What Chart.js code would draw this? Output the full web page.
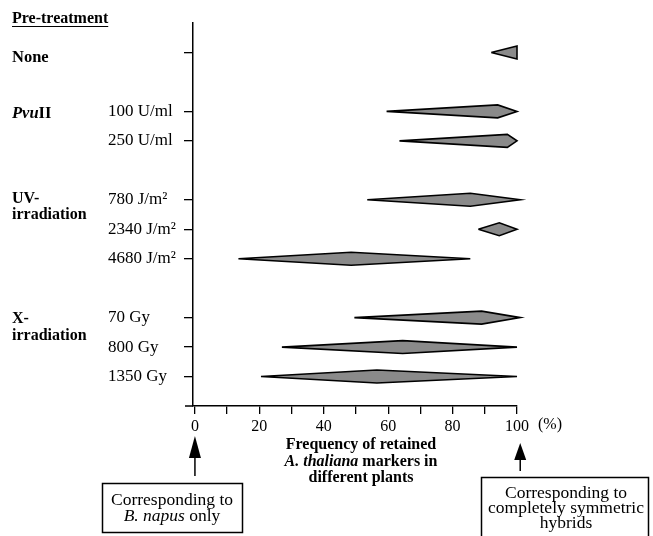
<!DOCTYPE html>
<html>
<head>
<meta charset="utf-8">
<script src="https://cdn.jsdelivr.net/npm/chart.js@4.4.1/dist/chart.umd.min.js"></script>
<style>
  html, body { margin: 0; padding: 0; background: #fff; }
  #wrap { width: 653px; height: 536px; }
</style>
</head>
<body>
<div id="wrap"><canvas id="chart"></canvas></div>
<script>
// --- данные ---
// строки по вертикали (0 = верх), пустые строки — промежутки между группами
const rows = [0, 2, 3, 5, 6, 7, 9, 10, 11];
const doseLabels = ['', '100 U/ml', '250 U/ml', '780 J/m²', '2340 J/m²', '4680 J/m²', '70 Gy', '800 Gy', '1350 Gy'];
// минимум, мода и максимум частоты (%) для каждого ромба
const minVals = [92, 59.5, 63.5, 53.5, 88, 13.5, 49.5, 27, 20.5];
const modeVals = [100, 94, 97, 85.5, 94.5, 48.5, 89, 64.5, 56.5];
const maxVals = [100, 100, 100, 101, 100, 85.5, 101, 100, 100];
const xTicks = [0, 10, 20, 30, 40, 50, 60, 70, 80, 90, 100];

const SERIF = '"Liberation Serif", "Times New Roman", serif';
const halfHeight = 0.22; // половина толщины ромба в единицах строки

// ромб: левый конец, верх у моды, правый конец, низ у моды
const datasets = rows.map((r, i) => ({
    data: [
        { x: minVals[i], y: r },
        { x: modeVals[i], y: r - halfHeight },
        { x: maxVals[i], y: r },
        { x: modeVals[i], y: r + halfHeight },
        { x: minVals[i], y: r }
    ],
    showLine: true,
    fill: 'shape',
    tension: 0,
    borderColor: '#000',
    borderWidth: 1.6,
    backgroundColor: '#8a8a8a',
    pointRadius: 0,
    pointHoverRadius: 0,
    clip: false
}));

// текст из нескольких кусков с разными шрифтами
const drawRuns = (ctx, runs, x, y, align) => {
    let total = 0;
    runs.forEach(([t, f]) => { ctx.font = f; total += ctx.measureText(t).width; });
    let cx = align === 'center' ? x - total / 2 : x;
    ctx.textAlign = 'left';
    runs.forEach(([t, f]) => {
        ctx.font = f;
        ctx.fillText(t, cx, y);
        cx += ctx.measureText(t).width;
    });
};

const annotations = {
    id: 'annotations',
    afterDraw(chart) {
        const { ctx, scales: { x, y }, chartArea } = chart;
        const B = '700 16px ' + SERIF;
        const BI = 'italic 700 16px ' + SERIF;
        const R = '16px ' + SERIF;
        const RB = '17.5px ' + SERIF;
        const IB = 'italic 17.5px ' + SERIF;
        ctx.save();
        ctx.fillStyle = '#000';
        ctx.strokeStyle = '#000';
        ctx.textBaseline = 'middle';

        // заголовок слева, подчёркнутый
        ctx.font = B;
        ctx.textAlign = 'left';
        ctx.fillText('Pre-treatment', 12, 19);
        const w = ctx.measureText('Pre-treatment').width;
        ctx.lineWidth = 1;
        ctx.beginPath();
        ctx.moveTo(12, 26.5);
        ctx.lineTo(12 + w, 26.5);
        ctx.stroke();

        // названия групп
        ctx.font = '700 16.5px ' + SERIF;
        ctx.fillText('None', 12, y.getPixelForValue(0) + 5);
        drawRuns(ctx, [['Pvu', 'italic 700 16.5px ' + SERIF], ['II', '700 16.5px ' + SERIF]], 12, y.getPixelForValue(2) + 2, 'left');
        ctx.font = B;
        ctx.fillText('UV-', 12, y.getPixelForValue(5) - 1);
        ctx.fillText('irradiation', 12, y.getPixelForValue(5) + 15);
        ctx.fillText('X-', 12, y.getPixelForValue(9) + 1);
        ctx.fillText('irradiation', 12, y.getPixelForValue(9) + 18);

        // ось X чуть выходит влево за ось Y
        ctx.lineWidth = 1.5;
        ctx.beginPath();
        ctx.moveTo(185, chartArea.bottom);
        ctx.lineTo(chartArea.left, chartArea.bottom);
        ctx.stroke();

        // "(%)" после 100
        ctx.font = R;
        ctx.textAlign = 'left';
        ctx.fillText('(%)', x.getPixelForValue(100) + 21, 425);

        // подпись оси X
        const cx = 361;
        drawRuns(ctx, [['Frequency of retained', B]], cx, 445, 'center');
        drawRuns(ctx, [['A. thaliana', BI], [' markers in', B]], cx, 462, 'center');
        drawRuns(ctx, [['different plants', B]], cx, 478, 'center');

        // стрелки
        const arrow = (ax, tip, headEnd, tail) => {
            ctx.beginPath();
            ctx.moveTo(ax, tip);
            ctx.lineTo(ax - 6, headEnd);
            ctx.lineTo(ax + 6, headEnd);
            ctx.closePath();
            ctx.fill();
            ctx.lineWidth = 1.5;
            ctx.beginPath();
            ctx.moveTo(ax, headEnd);
            ctx.lineTo(ax, tail);
            ctx.stroke();
        };
        arrow(x.getPixelForValue(0), 436, 458, 476);
        arrow(x.getPixelForValue(101), 443, 460, 471);

        // рамки с пояснениями
        ctx.lineWidth = 1.5;
        ctx.strokeRect(102.5, 483.5, 140, 49);
        drawRuns(ctx, [['Corresponding to', RB]], 172, 500, 'center');
        drawRuns(ctx, [['B. napus', IB], [' only', RB]], 172, 516, 'center');

        ctx.beginPath();
        ctx.moveTo(481.5, 540);
        ctx.lineTo(481.5, 477.5);
        ctx.lineTo(648.5, 477.5);
        ctx.lineTo(648.5, 540);
        ctx.stroke();
        drawRuns(ctx, [['Corresponding to', RB]], 566, 493, 'center');
        drawRuns(ctx, [['completely symmetric', RB]], 566, 508, 'center');
        drawRuns(ctx, [['hybrids', RB]], 566, 523, 'center');
        ctx.restore();
    }
};

const ctx = document.getElementById('chart').getContext('2d');
const chart = new Chart(ctx, {
    type: 'scatter',
    data: { datasets },
    plugins: [annotations],
    options: {
        responsive: true,
        maintainAspectRatio: false,
        animation: false,
        events: [],
        layout: { padding: { left: 108, top: 23, right: 136, bottom: 0 } },
        plugins: {
            legend: { display: false },
            tooltip: { enabled: false }
        },
        scales: {
            x: {
                type: 'linear',
                min: -0.6,
                max: 100,
                afterBuildTicks: (scale) => { scale.ticks = xTicks.map(v => ({ value: v })); },
                afterFit: (scale) => { scale.height = 130; },
                grid: { drawOnChartArea: false, tickLength: 8, color: '#000', lineWidth: 1.3 },
                border: { display: true, color: '#000', width: 1.5 },
                ticks: {
                    color: '#000',
                    padding: 3,
                    maxRotation: 0,
                    autoSkip: false,
                    font: { family: SERIF, size: 16 },
                    callback: (v) => (v % 20 === 0 ? String(v) : '')
                }
            },
            y: {
                type: 'linear',
                min: -1,
                max: 12,
                reverse: true,
                afterBuildTicks: (scale) => { scale.ticks = rows.map(v => ({ value: v })); },
                afterFit: (scale) => { scale.width = 85; },
                grid: { drawOnChartArea: false, tickLength: 9, color: '#000', lineWidth: 1.3 },
                border: { display: true, color: '#000', width: 1.5 },
                ticks: {
                    color: '#000',
                    padding: 10,
                    autoSkip: false,
                    crossAlign: 'far',
                    font: { family: SERIF, size: 17 },
                    callback: (v) => doseLabels[rows.indexOf(v)]
                }
            }
        }
    }
});
</script>
</body>
</html>
